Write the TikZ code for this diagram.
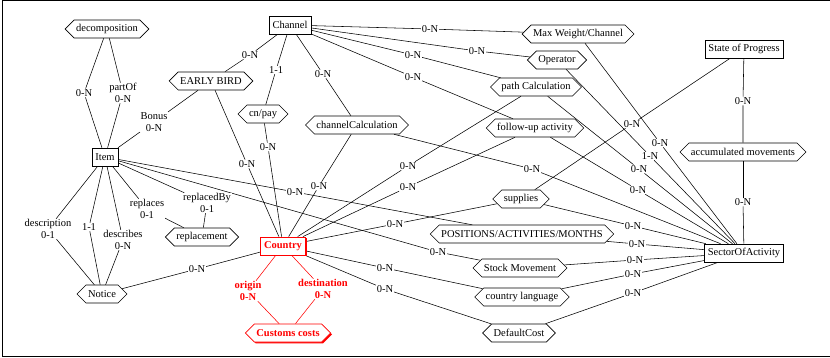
\documentclass[tikz,border=0pt]{standalone}
\usepackage{fontspec}
\setmainfont{Liberation Serif}
\usetikzlibrary{shapes.symbols,shadows}
\pgfdeclarelayer{bg}
\pgfsetlayers{bg,main}
\newcommand{\ERlink}[4][]{\draw[ln,#1] (#2) -- (#3); \draw[ln,#1] (#3) -- (#4);}
\begin{document}
\begin{tikzpicture}[x=1pt,y=-1pt,
 font=\fontsize{10.5}{11.5}\selectfont,
 ent/.style={draw, fill=white, rectangle, line width=0.6pt, inner xsep=3.5pt, inner ysep=0pt, minimum height=18pt},
 asso/.style={draw, fill=white, signal, signal to=west and east, line width=0.6pt, inner xsep=2pt, inner ysep=0pt, minimum height=18pt},
 card/.style={fill=white, inner sep=0.6pt, align=center},
 redcard/.style={card, text=red, font=\fontsize{10.5}{11.5}\selectfont\bfseries},
 ln/.style={line width=0.55pt},
 redln/.style={draw=red, line width=0.55pt},
 countrybox/.style={ent, draw=red, text=red, line width=0.8pt, font=\fontsize{10.5}{11.5}\selectfont\bfseries,
   drop shadow={shadow xshift=1.4pt, shadow yshift=-1.4pt, fill=red, opacity=1}},
 customsbox/.style={asso, draw=red, text=red, line width=0.8pt, font=\fontsize{10.5}{11.5}\selectfont\bfseries,
   drop shadow={shadow xshift=1.4pt, shadow yshift=-1.4pt, fill=red, opacity=1}}
]
\useasboundingbox (0,0) rectangle (830,358);
\draw[line width=0.8pt] (840,0.7) -- (2.2,0.7) -- (2.2,356.6) -- (840,356.6);

% entities and associations
\node[asso] (decomp) at (107,29) {decomposition};
\node[ent] (channel) at (290,25) {Channel};
\node[asso] (early) at (211,81) {EARLY BIRD};
\node[asso] (cnpay) at (263,114) {cn/pay};
\node[asso] (chcalc) at (357,125) {channelCalculation};
\node[ent] (item) at (105,157) {Item};
\node[asso] (maxw) at (578,34) {Max Weight/Channel};
\node[asso] (oper) at (557,60) {Operator};
\node[asso] (path) at (536,87) {path Calculation};
\node[asso] (follow) at (535,128) {follow-up activity};
\node[asso] (supplies) at (521,199) {supplies};
\node[asso] (pos) at (522,234) {POSITIONS/ACTIVITIES/MONTHS};
\node[asso] (stock) at (520,268) {Stock Movement};
\node[asso] (lang) at (522,297) {country language};
\node[asso] (dcost) at (519,333) {DefaultCost};
\node[ent] (sop) at (744,49) {State of Progress};
\node[asso] (accum) at (743,152) {accumulated movements};
\node[ent] (sector) at (744,253) {SectorOfActivity};
\node[countrybox] (country) at (283,246) {Country};
\node[customsbox] (customs) at (288,333) {Customs costs};
\node[asso] (notice) at (102,294) {Notice};
\node[asso] (repl) at (202,237) {replacement};

% cardinality labels
\node[card] (d1) at (84,93) {0-N};
\node[card] (d2) at (123,93) {partOf\\0-N};
\node[card] (b1) at (154,122) {Bonus\\0-N};
\node[card] (n1) at (48,229) {description\\0-1};
\node[card] (n2) at (89,227) {1-1};
\node[card] (n3) at (123,240) {describes\\0-N};
\node[card] (r1) at (147,209) {replaces\\0-1};
\node[card] (r2) at (207,203) {replacedBy\\0-1};
\node[card] (ip) at (295,192) {0-N};
\node[card] (is) at (438,252) {0-N};
\node[card] (ce) at (250,55) {0-N};
\node[card] (cc) at (276,70) {1-1};
\node[card] (ck) at (323,74) {0-N};
\node[card] (cm) at (430,29) {0-N};
\node[card] (co) at (477,51) {0-N};
\node[card] (cp) at (413,55) {0-N};
\node[card] (cf) at (413,77) {0-N};
\node[card] (ye) at (247,164) {0-N};
\node[card] (yc) at (268,147) {0-N};
\node[card] (yk) at (319,186) {0-N};
\node[card] (yp) at (408,166) {0-N};
\node[card] (yf) at (408,187) {0-N};
\node[card] (ys) at (395,224) {0-N};
\node[card] (yl) at (385,268) {0-N};
\node[card] (yd) at (385,289) {0-N};
\node[card] (yn) at (197,269) {0-N};
\node[redcard] (yo) at (248,291) {origin\\0-N};
\node[redcard] (yt) at (323,289) {destination\\0-N};
\node[card] (sm) at (660,143) {0-N};
\node[card] (so) at (650,156) {1-N};
\node[card] (sp) at (639,169) {0-N};
\node[card] (sf) at (638,190) {0-N};
\node[card] (sk) at (532,169) {0-N};
\node[card] (ss) at (633,226) {0-N};
\node[card] (sq) at (637,244) {0-N};
\node[card] (st) at (635,260) {0-N};
\node[card] (sl) at (633,274) {0-N};
\node[card] (sd) at (633,293) {0-N};
\node[card] (sa) at (743,202) {0-N};
\node[card] (pa) at (743,101) {0-N};
\node[card] (ps) at (632,124) {0-N};

\begin{pgfonlayer}{bg}
\ERlink{item}{d1}{decomp}
\ERlink{item}{d2}{decomp}
\ERlink{item}{b1}{early}
\ERlink{item}{n1}{notice}
\ERlink{item}{n2}{notice}
\ERlink{item}{n3}{notice}
\ERlink{item}{r1}{repl}
\ERlink{item}{r2}{repl}
\ERlink{item}{ip}{pos}
\ERlink{item}{is}{stock}
\ERlink{channel}{ce}{early}
\ERlink{channel}{cc}{cnpay}
\ERlink{channel}{ck}{chcalc}
\ERlink{channel}{cm}{maxw}
\ERlink{channel}{co}{oper}
\ERlink{channel}{cp}{path}
\ERlink{channel}{cf}{follow}
\ERlink{country}{ye}{early}
\ERlink{country}{yc}{cnpay}
\ERlink{country}{yk}{chcalc}
\ERlink{country}{yp}{path}
\ERlink{country}{yf}{follow}
\ERlink{country}{ys}{supplies}
\ERlink{country}{yl}{lang}
\ERlink{country}{yd}{dcost}
\ERlink{country}{yn}{notice}
\ERlink[redln]{country}{yo}{customs}
\ERlink[redln]{country}{yt}{customs}
\ERlink{sector}{sm}{maxw}
\ERlink{sector}{so}{oper}
\ERlink{sector}{sp}{path}
\ERlink{sector}{sf}{follow}
\ERlink{sector}{sk}{chcalc}
\ERlink{sector}{ss}{supplies}
\ERlink{sector}{sq}{pos}
\ERlink{sector}{st}{stock}
\ERlink{sector}{sl}{lang}
\ERlink{sector}{sd}{dcost}
\ERlink{sector}{sa}{accum}
\ERlink{sop}{pa}{accum}
\ERlink{sop}{ps}{supplies}
\end{pgfonlayer}
\end{tikzpicture}
\end{document}
